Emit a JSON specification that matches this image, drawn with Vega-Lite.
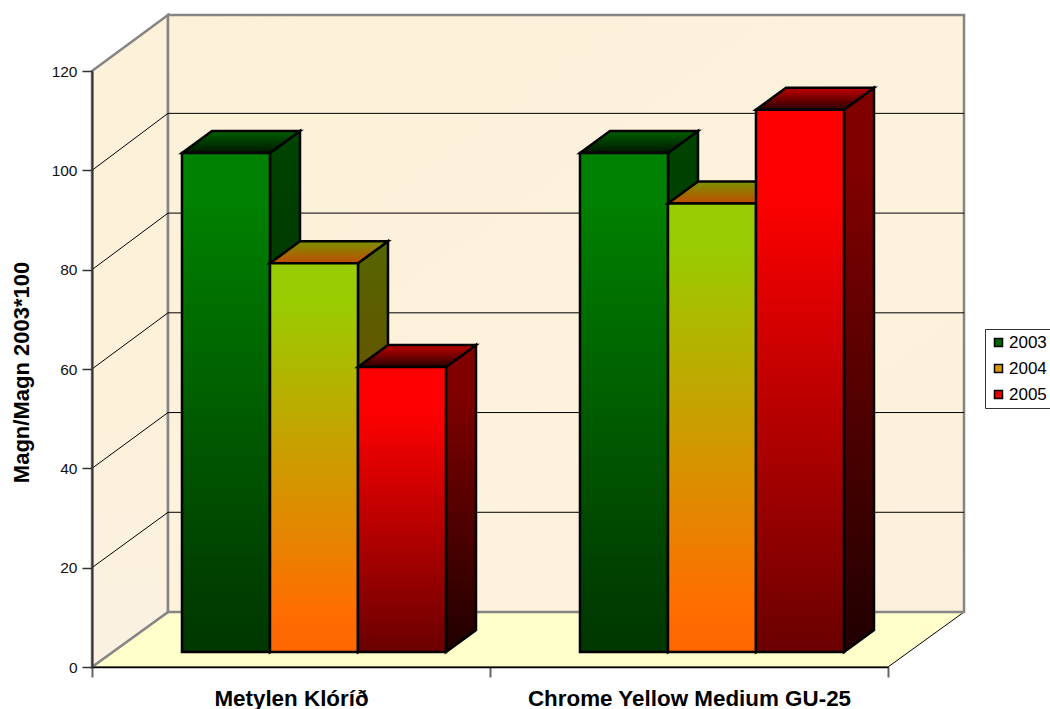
{
"$schema":"https://vega.github.io/schema/vega-lite/v6.json",
"width":796,"height":596,
"autosize":{"type":"none"},
"padding":{"left":92,"top":71,"right":162,"bottom":42},
"background":"white",
"config":{"view":{"stroke":null},"font":"Liberation Sans"},
"data":{"values":[
{"category":"Metylen Klóríð","series":"2003","value":100},
{"category":"Metylen Klóríð","series":"2004","value":77.8},
{"category":"Metylen Klóríð","series":"2005","value":56.9},
{"category":"Chrome Yellow Medium GU-25","series":"2003","value":100},
{"category":"Chrome Yellow Medium GU-25","series":"2004","value":89.8},
{"category":"Chrome Yellow Medium GU-25","series":"2005","value":108.7}
]},
"transform":[
{"calculate":"datum.category=='Metylen Klóríð'?0:1","as":"i"},
{"calculate":"toNumber(datum.series)-2003","as":"s"},
{"calculate":"[0,1]","as":"dl"},
{"flatten":["dl"],"as":["d"]},
{"calculate":"datum.i+0.2261+datum.s*0.2211+datum.d*0.0754","as":"xl"},
{"calculate":"datum.xl+0.2211","as":"xr"},
{"calculate":"datum.value+3.5+datum.d*4.43","as":"yt"},
{"calculate":"3+datum.d*4.43","as":"yb"}
],
"layer":[
{"data":{"values":[{"depth":0},{"depth":1}]},
 "transform":[{"calculate":"datum.depth*0.191","as":"wx"},{"calculate":"datum.wx+2","as":"wx2"},{"calculate":"datum.depth*11.07","as":"wy"}],
 "mark":{"type":"area","orient":"horizontal","fill":"#FFFFCC","stroke":"#000000","strokeWidth":1},
 "encoding":{"y":{"field":"wy","type":"quantitative","scale":{"domain":[0,120],"nice":false,"zero":false},
   "axis":{"title":"Magn/Magn 2003*100","titleFontSize":22,"titleFontWeight":"bold","titleColor":"#000000","titleX":-59,"titleY":301,"values":[0,20,40,60,80,100,120],"labelFontSize":15.5,"labelColor":"#111111","labelPadding":5,"tickSize":10,"tickColor":"#333333","tickWidth":1.5,"domainColor":"#333333","domainWidth":2,"grid":false,"zindex":1}},
  "x":{"field":"wx","type":"quantitative","scale":{"domain":[0,2],"nice":false,"zero":false},
   "axis":{"title":null,"values":[0,0.5,1,1.5,2],"labelExpr":"datum.value==0.5?'Metylen Klóríð':datum.value==1.5?'Chrome Yellow Medium GU-25':''","labelFontSize":22.4,"labelFontWeight":"bold","labelColor":"#000000","labelLimit":600,"labelOverlap":false,"labelBound":false,"labelFlush":false,"labelPadding":10,"tickSize":10,"tickColor":"#666666","tickWidth":2,"tickOpacity":{"condition":{"test":"datum.value%1!=0","value":0},"value":1},"domainColor":"#000000","domainWidth":1.5,"grid":false,"zindex":1}},
  "x2":{"field":"wx2"}}},
{"data":{"values":[{"depth":0},{"depth":1}]},
 "transform":[{"calculate":"datum.depth*0.191","as":"wx"},{"calculate":"120+datum.depth*11.27","as":"wt"},{"calculate":"datum.depth*11.07","as":"wb"}],
 "mark":{"type":"area","stroke":"#858585","strokeWidth":2.5,"fill":{"x1":0,"y1":0,"x2":0,"y2":1,"gradient":"linear","stops":[{"offset":0,"color":"#FDF1D9"},{"offset":0.6,"color":"#FDF1DA"},{"offset":1,"color":"#FBF1E2"}]}},
 "encoding":{"x":{"field":"wx","type":"quantitative","scale":{"domain":[0,2],"nice":false,"zero":false}},
  "y":{"field":"wt","type":"quantitative","scale":{"domain":[0,120],"nice":false,"zero":false}},
  "y2":{"field":"wb"}}},
{"data":{"values":[{"depth":1}]},
 "transform":[{"calculate":"datum.depth*0.191","as":"wx"},{"calculate":"datum.wx+2","as":"wx2"},{"calculate":"120+datum.depth*11.27","as":"wt"},{"calculate":"datum.depth*11.07","as":"wb"}],
 "mark":{"type":"rect","stroke":"#858585","strokeWidth":2.5,"fill":{"x1":0,"y1":0,"x2":1,"y2":1,"gradient":"linear","stops":[{"offset":0,"color":"#FCF1D8"},{"offset":0.3,"color":"#FDF1DB"},{"offset":0.6,"color":"#FDF2DC"},{"offset":1,"color":"#FCF0DC"}]}},
 "encoding":{"x":{"field":"wx","type":"quantitative","scale":{"domain":[0,2],"nice":false,"zero":false}},"x2":{"field":"wx2"},
  "y":{"field":"wt","type":"quantitative","scale":{"domain":[0,120],"nice":false,"zero":false}},"y2":{"field":"wb"}}},
{"data":{"values":[{"tick":20},{"tick":40},{"tick":60},{"tick":80},{"tick":100}]},
 "transform":[{"calculate":"[0,1,2]","as":"pl"},{"flatten":["pl"],"as":["p"]},
  {"calculate":"datum.p==0?0:datum.p==1?0.191:2.191","as":"gx"},
  {"calculate":"datum.p==0?datum.tick:11.07+datum.tick*1.004","as":"gy"}],
 "mark":{"type":"line","color":"#000000","strokeWidth":1},
 "encoding":{"x":{"field":"gx","type":"quantitative","scale":{"domain":[0,2],"nice":false,"zero":false}},
  "y":{"field":"gy","type":"quantitative","scale":{"domain":[0,120],"nice":false,"zero":false}},
  "detail":{"field":"tick"},"order":{"field":"p"}}},

{"transform":[{"filter":"datum.series=='2003'"}],
 "mark":{"type":"area","stroke":"#000000","strokeWidth":2.5,"fill":{"x1":0,"y1":0,"x2":0,"y2":1,"gradient":"linear","stops":[{"offset":0,"color":"#004400"},{"offset":1,"color":"#001F00"}]}},
 "encoding":{"x":{"field":"xr","type":"quantitative","scale":{"domain":[0,2],"nice":false,"zero":false}},"y":{"field":"yt","type":"quantitative","scale":{"domain":[0,120],"nice":false,"zero":false}},"y2":{"field":"yb"},"detail":{"field":"category"}}},
{"transform":[{"filter":"datum.series=='2003'"}],
 "mark":{"type":"area","orient":"horizontal","stroke":"#000000","strokeWidth":2.5,"fill":{"x1":0,"y1":0,"x2":0,"y2":1,"gradient":"linear","stops":[{"offset":0,"color":"#006000"},{"offset":1,"color":"#001500"}]}},
 "encoding":{"y":{"field":"yt","type":"quantitative","scale":{"domain":[0,120],"nice":false,"zero":false}},"x":{"field":"xl","type":"quantitative","scale":{"domain":[0,2],"nice":false,"zero":false}},"x2":{"field":"xr"},"detail":{"field":"category"}}},
{"transform":[{"filter":"datum.series=='2003' && datum.d==0"}],
 "mark":{"type":"rect","stroke":"#000000","strokeWidth":2.5,"fill":{"x1":0,"y1":0,"x2":0,"y2":1,"gradient":"linear","stops":[{"offset":0,"color":"#008000"},{"offset":0.1,"color":"#008000"},{"offset":0.9,"color":"#003C00"},{"offset":1,"color":"#003800"}]}},
 "encoding":{"x":{"field":"xl","type":"quantitative","scale":{"domain":[0,2],"nice":false,"zero":false}},"x2":{"field":"xr"},"y":{"field":"yt","type":"quantitative","scale":{"domain":[0,120],"nice":false,"zero":false}},"y2":{"field":"yb"}}},

{"transform":[{"filter":"datum.series=='2004'"}],
 "mark":{"type":"area","stroke":"#000000","strokeWidth":2.5,"fill":{"x1":0,"y1":0,"x2":0,"y2":1,"gradient":"linear","stops":[{"offset":0,"color":"#556600"},{"offset":1,"color":"#803300"}]}},
 "encoding":{"x":{"field":"xr","type":"quantitative","scale":{"domain":[0,2],"nice":false,"zero":false}},"y":{"field":"yt","type":"quantitative","scale":{"domain":[0,120],"nice":false,"zero":false}},"y2":{"field":"yb"},"detail":{"field":"category"}}},
{"transform":[{"filter":"datum.series=='2004'"}],
 "mark":{"type":"area","orient":"horizontal","stroke":"#000000","strokeWidth":2.5,"fill":{"x1":0,"y1":0,"x2":0,"y2":1,"gradient":"linear","stops":[{"offset":0,"color":"#7A9200"},{"offset":1,"color":"#C04C00"}]}},
 "encoding":{"y":{"field":"yt","type":"quantitative","scale":{"domain":[0,120],"nice":false,"zero":false}},"x":{"field":"xl","type":"quantitative","scale":{"domain":[0,2],"nice":false,"zero":false}},"x2":{"field":"xr"},"detail":{"field":"category"}}},
{"transform":[{"filter":"datum.series=='2004' && datum.d==0"}],
 "mark":{"type":"rect","stroke":"#000000","strokeWidth":2.5,"fill":{"x1":0,"y1":0,"x2":0,"y2":1,"gradient":"linear","stops":[{"offset":0,"color":"#99CC00"},{"offset":0.1,"color":"#99CC00"},{"offset":0.9,"color":"#FF6D00"},{"offset":1,"color":"#FF6600"}]}},
 "encoding":{"x":{"field":"xl","type":"quantitative","scale":{"domain":[0,2],"nice":false,"zero":false}},"x2":{"field":"xr"},"y":{"field":"yt","type":"quantitative","scale":{"domain":[0,120],"nice":false,"zero":false}},"y2":{"field":"yb"}}},

{"transform":[{"filter":"datum.series=='2005'"}],
 "mark":{"type":"area","stroke":"#000000","strokeWidth":2.5,"fill":{"x1":0,"y1":0,"x2":0,"y2":1,"gradient":"linear","stops":[{"offset":0,"color":"#800000"},{"offset":0.15,"color":"#800000"},{"offset":1,"color":"#200000"}]}},
 "encoding":{"x":{"field":"xr","type":"quantitative","scale":{"domain":[0,2],"nice":false,"zero":false}},"y":{"field":"yt","type":"quantitative","scale":{"domain":[0,120],"nice":false,"zero":false}},"y2":{"field":"yb"},"detail":{"field":"category"}}},
{"transform":[{"filter":"datum.series=='2005'"}],
 "mark":{"type":"area","orient":"horizontal","stroke":"#000000","strokeWidth":2.5,"fill":{"x1":0,"y1":0,"x2":0,"y2":1,"gradient":"linear","stops":[{"offset":0,"color":"#C00000"},{"offset":1,"color":"#2A0000"}]}},
 "encoding":{"y":{"field":"yt","type":"quantitative","scale":{"domain":[0,120],"nice":false,"zero":false}},"x":{"field":"xl","type":"quantitative","scale":{"domain":[0,2],"nice":false,"zero":false}},"x2":{"field":"xr"},"detail":{"field":"category"}}},
{"transform":[{"filter":"datum.series=='2005' && datum.d==0"}],
 "mark":{"type":"rect","stroke":"#000000","strokeWidth":2.5,"fill":{"x1":0,"y1":0,"x2":0,"y2":1,"gradient":"linear","stops":[{"offset":0,"color":"#FF0000"},{"offset":0.15,"color":"#FF0000"},{"offset":1,"color":"#6A0000"}]}},
 "encoding":{"x":{"field":"xl","type":"quantitative","scale":{"domain":[0,2],"nice":false,"zero":false}},"x2":{"field":"xr"},"y":{"field":"yt","type":"quantitative","scale":{"domain":[0,120],"nice":false,"zero":false}},"y2":{"field":"yb"}}},

{"mark":{"type":"point","filled":true,"size":0,"shape":"square","opacity":1},
 "encoding":{"x":{"field":"xl","type":"quantitative","scale":{"domain":[0,2],"nice":false,"zero":false}},
  "y":{"field":"yt","type":"quantitative","scale":{"domain":[0,120],"nice":false,"zero":false}},
  "color":{"field":"series","type":"nominal","scale":{"domain":["2003","2004","2005"],"range":["#006600","#D89A00","#EE0000"]},
   "legend":{"title":null,"orient":"none","legendX":893,"legendY":258,"padding":5,"strokeColor":"#333333","fillColor":"#FFFFFF","symbolType":"square","symbolSize":64,"symbolOpacity":1,"symbolStrokeColor":"#000000","symbolStrokeWidth":1.5,"labelFontSize":17,"labelColor":"#000000","labelOffset":2,"rowPadding":8,"labelFont":"Liberation Sans"}}}}
]
}
